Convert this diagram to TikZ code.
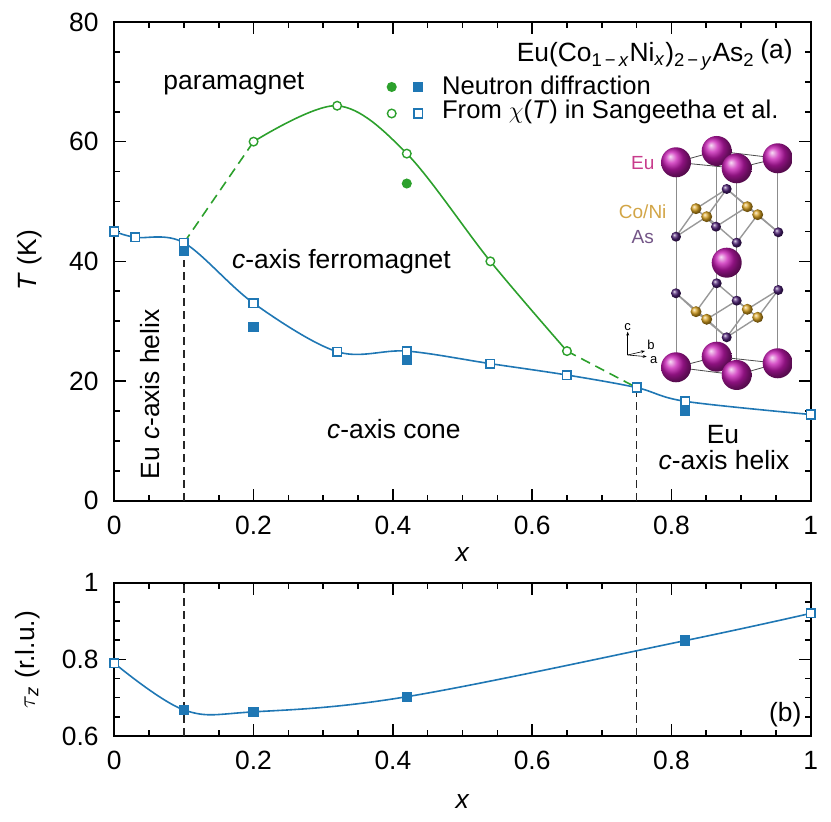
\documentclass[tikz,border=0pt]{standalone}
\usepackage{fontspec}
\setmainfont{Liberation Sans}
\usetikzlibrary{positioning,arrows.meta}

\definecolor{dblue}{HTML}{1F77B4}
\definecolor{dgreen}{HTML}{2CA02C}
\definecolor{eucol}{RGB}{200,25,180}
\definecolor{conicol}{RGB}{215,160,30}
\definecolor{ascol}{RGB}{75,30,115}
\definecolor{eutxt}{RGB}{200,60,140}
\definecolor{conitxt}{RGB}{210,165,70}
\definecolor{astxt}{RGB}{115,85,135}

\tikzset{
  frame/.style={line width=0.9pt},
  tick/.style={line width=0.8pt},
  lab/.style={font=\fontsize{13.2}{15.5}\selectfont, inner sep=0pt},
  leglab/.style={font=\fontsize{12.8}{15}\selectfont, inner sep=0pt},
  opensq/.style={rectangle, draw=dblue, fill=white, line width=0.8pt, minimum size=4.3pt, inner sep=0pt},
  fullsq/.style={rectangle, draw=dblue, fill=dblue, line width=0.8pt, minimum size=4.3pt, inner sep=0pt},
  opencirc/.style={circle, draw=dgreen, fill=white, line width=0.7pt, minimum size=4.3pt, inner sep=0pt},
  fullcirc/.style={circle, draw=dgreen, fill=dgreen, line width=0.7pt, minimum size=4.3pt, inner sep=0pt},
  bluecurve/.style={dblue, line width=0.8pt},
  greencurve/.style={dgreen, line width=0.8pt},
  greendash/.style={dgreen, line width=0.8pt, dash pattern=on 5pt off 3pt},
  cutline/.style={black!85, line width=0.8pt, dash pattern=on 4pt off 2.5pt},
  celledge/.style={black!45, line width=0.5pt},
  bond/.style={black!40, line width=0.7pt},
  xtal/.style={font=\fontsize{9.5}{11}\selectfont, inner sep=0pt},
  axlab/.style={font=\fontsize{6.5}{7}\selectfont, inner sep=0.5pt},
}

\begin{document}
\begin{tikzpicture}[x=0.5pt,y=0.5pt]
  \useasboundingbox (0,0) rectangle (831,822);

  % ---- panel (a): T versus x
  \begin{scope}[shift={(57.15pt,160.65pt)}, x=348.2pt, y=2.992pt]
    \draw[frame] (0,0) rectangle (1,80);
    \foreach \i in {1,...,19}
    {
      \draw[tick] (\i/20,0) -- ++(0,3pt);
      \draw[tick] (\i/20,80) -- ++(0,-3pt);
    }
    \foreach \xv in {0.2,0.4,0.6,0.8}
    {
      \draw[tick] (\xv,0) -- ++(0,6pt);
      \draw[tick] (\xv,80) -- ++(0,-6pt);
    }
    \foreach \tv in {5,10,...,75}
    {
      \draw[tick] (0,\tv) -- ++(3pt,0);
      \draw[tick] (1,\tv) -- ++(-3pt,0);
    }
    \foreach \tv in {20,40,60}
    {
      \draw[tick] (0,\tv) -- ++(6pt,0);
      \draw[tick] (1,\tv) -- ++(-6pt,0);
    }
    \foreach \xv [count=\n] in {0,0.2,0.4,0.6,0.8,1}
      \node[lab] (xta\n) at ([yshift=-12.15pt]\xv,0) {\xv};
    \foreach \tv [count=\n] in {0,20,40,60,80}
      \node[lab, anchor=east] (yta\n) at ([xshift=-7.65pt]0,\tv) {\tv};

    % phase boundaries at x = 0.1 and 0.75
    \draw[cutline] (0.1,0) -- (0.1,40.3);
    \draw[cutline] (0.75,0) -- (0.75,18.3);

    % data points
    \foreach \n/\xv/\tv in {1/0/45, 2/0.03/44, 3/0.1/43.1, 4/0.2/33, 5/0.32/24.9, 6/0.42/25,
                            7/0.54/22.9, 8/0.65/21, 9/0.75/18.9, 10/0.82/16.6, 11/1/14.4}
      \coordinate (ta\n) at (\xv,\tv);
    \foreach \n/\xv/\tv in {1/0.1/41.7, 2/0.2/29, 3/0.42/23.5, 4/0.82/15}
      \coordinate (fa\n) at (\xv,\tv);
    \foreach \n/\xv/\tv in {1/0.2/60, 2/0.32/66, 3/0.42/58, 4/0.54/40, 5/0.65/25}
      \coordinate (ga\n) at (\xv,\tv);
    \coordinate (gf1) at (0.42,53);

    \draw[bluecurve] plot[smooth, tension=0.55] coordinates
      {(ta1) (ta2) (ta3) (ta4) (ta5) (ta6) (ta7) (ta8) (ta9) (ta10) (ta11)};
    \draw[greencurve] plot[smooth, tension=0.55] coordinates
      {(ga1) (ga2) (ga3) (ga4) (ga5)};
    \draw[greendash] (ta3) -- (ga1);
    \draw[greendash] (ga5) -- (ta9);

    \foreach \n in {1,...,4}
      \node[fullsq] (fsa\n) at (fa\n) {};
    \foreach \n in {1,...,11}
      \node[opensq] (osa\n) at (ta\n) {};
    \foreach \n in {1,...,5}
      \node[opencirc] (oca\n) at (ga\n) {};
    \node[fullcirc] (fca1) at (gf1) {};
  \end{scope}

  % ---- panel (b): tau_z versus x
  \begin{scope}[shift={(57.15pt,-71.96pt)}, x=348.2pt, y=191.6pt]
    \draw[frame] (0,0.6) rectangle (1,1);
    \foreach \i in {1,...,19}
    {
      \draw[tick] (\i/20,0.6) -- ++(0,3pt);
      \draw[tick] (\i/20,1) -- ++(0,-3pt);
    }
    \foreach \xv in {0.2,0.4,0.6,0.8}
    {
      \draw[tick] (\xv,0.6) -- ++(0,6pt);
      \draw[tick] (\xv,1) -- ++(0,-6pt);
    }
    \foreach \i in {13,...,19}
    {
      \draw[tick] (0,\i/20) -- ++(3pt,0);
      \draw[tick] (1,\i/20) -- ++(-3pt,0);
    }
    \draw[tick] (0,0.8) -- ++(6pt,0);
    \draw[tick] (1,0.8) -- ++(-6pt,0);
    \foreach \xv [count=\n] in {0,0.2,0.4,0.6,0.8,1}
      \node[lab] (xtb\n) at ([yshift=-12.15pt]\xv,0.6) {\xv};
    \foreach \tv [count=\n] in {0.6,0.8,1}
      \node[lab, anchor=east] (ytb\n) at ([xshift=-7.65pt]0,\tv) {\tv};

    \draw[cutline] (0.1,0.6) -- (0.1,1);
    \draw[cutline] (0.75,0.6) -- (0.75,1);

    \coordinate (tb1) at (0,0.79);
    \coordinate (tb2) at (1,0.92);
    \foreach \n/\xv/\tv in {1/0.1/0.668, 2/0.2/0.663, 3/0.42/0.7025, 4/0.82/0.849}
      \coordinate (fb\n) at (\xv,\tv);
    \draw[bluecurve] plot[smooth, tension=0.6] coordinates
      {(tb1) (fb1) (fb2) (fb3) (fb4) (tb2)};
    \foreach \n in {1,...,4}
      \node[fullsq] (fsb\n) at (fb\n) {};
    \node[opensq] (osb1) at (tb1) {};
    \node[opensq] (osb2) at (tb2) {};
  \end{scope}

  % axis titles
  \node[lab, rotate=90] (Tlab) at (30,562) {\textit{T} (K)};
  \node[lab] (xlaba) at (462.5,267) {\textit{x}};
  \node[lab, rotate=90] (taulab) at (28,162) {$\tau$\textsubscript{\textit{z}} (r.l.u.)};
  \node[lab] (xlabb) at (462.5,20.3) {\textit{x}};

  % phase labels
  \node[lab, anchor=base west] (para) at (163,732) {paramagnet};
  \node[lab, anchor=base west] (ferro) at (231.7,553.7) {\textit{c}-axis ferromagnet};
  \node[lab, anchor=base west] (cone) at (326.7,383.7) {\textit{c}-axis cone};
  \node[lab, anchor=base west, rotate=90] (helixl) at (159,342) {Eu \textit{c}-axis helix};
  \node[lab, anchor=base] (helixr1) at (723,378.7) {Eu};
  \node[lab, anchor=base] (helixr2) at (724,352) {\textit{c}-axis helix};

  % title and legend
  \node[lab, anchor=base east] (formula) at (755,760.3)
    {Eu(Co\textsubscript{1\,−\,\textit{x}}Ni\textsubscript{\textit{x}})\textsubscript{2\,−\,\textit{y}}As\textsubscript{2}};
  \node[lab, anchor=base east] (tagA) at (793,763) {(a)};
  \node[lab, anchor=base east] (tagB) at (801.7,100) {(b)};
  \node[fullcirc] (lgfc) at (391.7,735) {};
  \node[fullsq] (lgfs) at (418.3,735) {};
  \node[leglab, anchor=base west] (lgneu) at (441.7,727.5) {Neutron diffraction};
  \node[opencirc] (lgoc) at (391.7,708.5) {};
  \node[opensq] (lgos) at (418.3,708.5) {};
  \node[leglab, anchor=base west] (lgchi) at (441.7,703) {From $\chi$(\textit{T}) in Sangeetha et al.};

  % ---- crystal structure inset
  \node[xtal, text=eutxt] (euname) at (642.7,658.7) {Eu};
  \node[xtal, text=conitxt] (coname) at (642.7,610.3) {Co/Ni};
  \node[xtal, text=astxt] (asname) at (642.7,584.7) {As};

  \coordinate (eut1) at (676,659.7);   \coordinate (eut2) at (716.7,671);
  \coordinate (eut3) at (736.7,653.7); \coordinate (eut4) at (777.7,663.7);
  \coordinate (eub1) at (676,454.7);   \coordinate (eub2) at (716.7,465.3);
  \coordinate (eub3) at (736.7,447);   \coordinate (eub4) at (777.7,458.7);
  \coordinate (eum) at (726.7,559.3);
  % As and Co/Ni, upper block
  \coordinate (asu0) at (726.7,633);
  \coordinate (asu1) at (676,585.3);   \coordinate (asu2) at (716,595.3);
  \coordinate (asu3) at (736.7,579.3); \coordinate (asu4) at (778.3,589.7);
  \coordinate (cou1) at (696,613.3);   \coordinate (cou2) at (706.7,605.3);
  \coordinate (cou3) at (747.3,615.3); \coordinate (cou4) at (757.7,607.3);
  % As and Co/Ni, lower block
  \coordinate (asl0) at (726.7,484.7);
  \coordinate (asl1) at (676,528.7);   \coordinate (asl2) at (716.7,538.7);
  \coordinate (asl3) at (736.7,521.3); \coordinate (asl4) at (778.3,532);
  \coordinate (col1) at (696,510.3);   \coordinate (col2) at (706.7,502.7);
  \coordinate (col3) at (747.3,512.7); \coordinate (col4) at (757.7,504.7);

  \foreach \n in {1,...,4}
    \draw[celledge] (eub\n) -- (eut\n);
  \draw[black!70, line width=0.4pt] (eut1) -- (eut2) -- (eut4) -- (eut3) -- cycle;
  \draw[black!70, line width=0.4pt] (eub1) -- (eub2) -- (eub4) -- (eub3) -- cycle;
  \foreach \b in {u,l}
  {
    \foreach \n in {1,...,4}
      \draw[bond] (as\b0) -- (co\b\n);
    \foreach \c/\a in {1/1,1/2,2/1,2/3,3/2,3/4,4/3,4/4}
      \draw[bond] (co\b\c) -- (as\b\a);
  }
  \foreach \b in {u,l}
  {
    \foreach \n in {0,...,4}
      \shade[ball color=ascol] (as\b\n) circle[radius=5];
    \foreach \n in {1,...,4}
      \shade[ball color=conicol] (co\b\n) circle[radius=5.5];
  }
  \foreach \n in {2,1,4,3}
  {
    \shade[ball color=eucol] (eub\n) circle[radius=15];
    \shade[ball color=eucol] (eut\n) circle[radius=15];
  }
  \shade[ball color=eucol] (eum) circle[radius=15];

  % lattice axes
  \coordinate (ax0) at (627.7,467);
  \coordinate (axc) at (627.7,490.3);
  \coordinate (axb) at (645,471);
  \coordinate (axa) at (646.7,465.3);
  \draw[line width=0.3pt, -{Stealth[length=2pt]}] (ax0) -- (axc);
  \draw[line width=0.3pt, -{Stealth[length=2pt]}] (ax0) -- (axb);
  \draw[line width=0.3pt, -{Stealth[length=2pt]}] (ax0) -- (axa);
  \node[axlab, above=0pt of axc] (axclab) {c};
  \node[axlab, anchor=south west] (axblab) at ([xshift=0.5pt]axb) {b};
  \node[axlab, anchor=north west] (axalab) at ([xshift=1pt,yshift=1pt]axa) {a};
\end{tikzpicture}
\end{document}
